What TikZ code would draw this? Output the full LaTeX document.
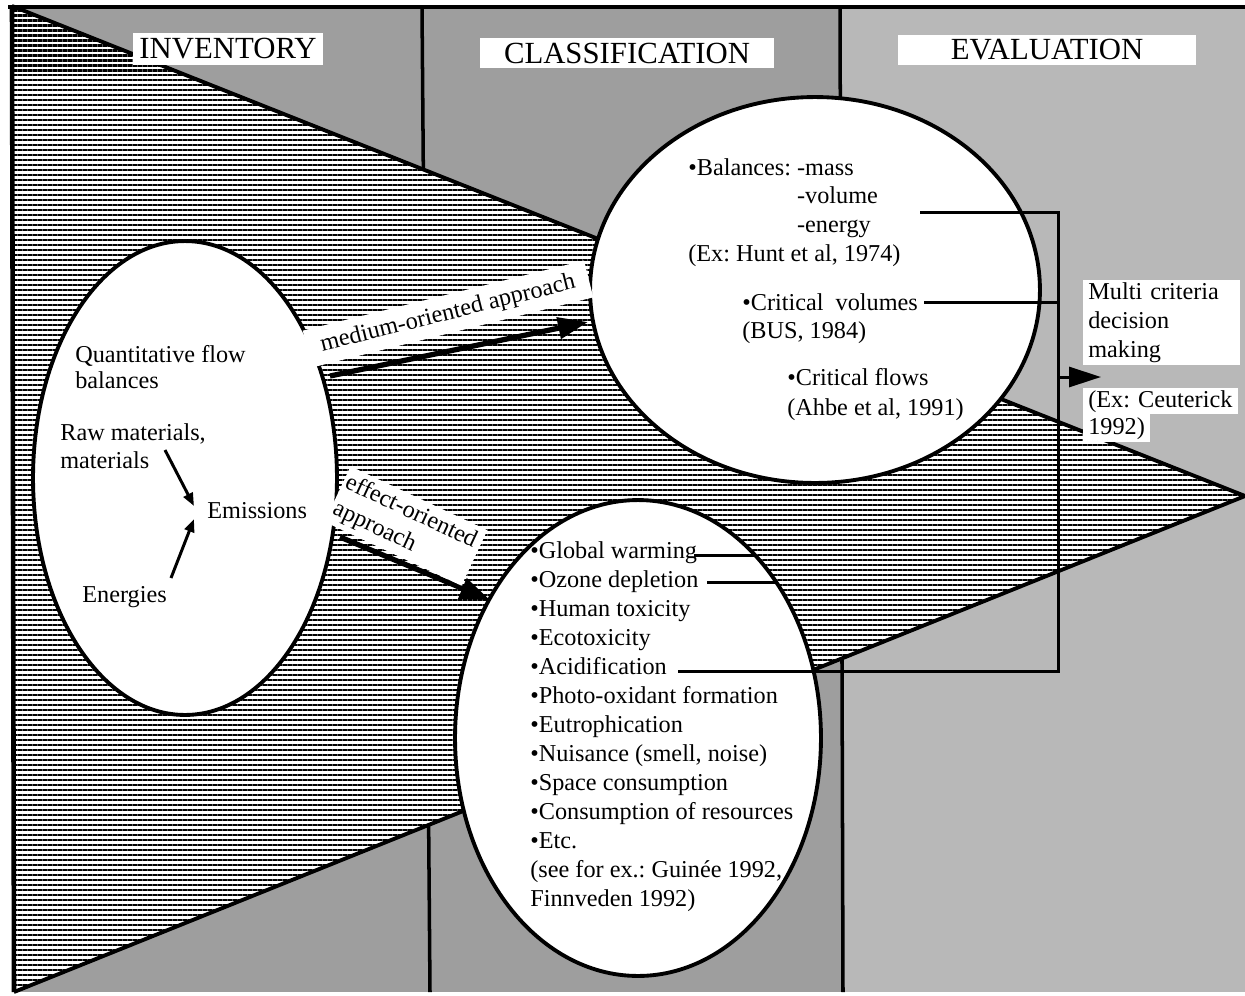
\documentclass[tikz,border=0pt]{standalone}
\usepackage{fontspec}
\setmainfont{Liberation Serif}
\usetikzlibrary{patterns.meta,arrows.meta,shapes.geometric}
\definecolor{screen}{gray}{0.62}
\definecolor{screenlight}{gray}{0.72}
\newcommand{\bodysize}[1]{\fontsize{13.8}{#1}\selectfont}
\frenchspacing
\begin{document}
\begin{tikzpicture}[x=0.02cm,y=-0.02cm,
  txt/.style={inner sep=0pt, align=left, anchor=north west, font=\bodysize{16.5pt}},
  head/.style={fill=white, inner sep=0pt, font=\fontsize{17.5}{20}\selectfont},
  bubble/.style={ellipse, draw, fill=white, line width=2.2pt, inner sep=0pt, outer sep=0pt},
  link/.style={line width=1.7pt},
  ptr/.style={line width=1.7pt, -{Triangle[length=0.26cm,width=0.2cm]}},
  flow/.style={line width=3pt, -{Triangle[length=0.6cm,width=0.42cm]}},
  tag/.style={fill=white, font=\bodysize{16.5pt}},
  rim/.style={line width=2.2pt, line join=miter}
]
% page and screened column backgrounds
\path[use as bounding box] (0,0) rectangle (1245,995);
\fill[white] (0,0) rectangle (1245,995);
\fill[screen] (12,7) rectangle (841,992);
\fill[screenlight] (841,7) rectangle (1245,992);
\draw[line width=2pt] (422,7) -- (430,992);
\draw[line width=2pt] (840,7) -- (843,992);

% large hatched wedge pointing right
\coordinate (tl) at (12,6);
\coordinate (bl) at (14,992);
\coordinate (tip) at (1245,496);
\fill[white] (tl) -- (tip) -- (bl) -- cycle;
\fill[pattern={Lines[angle=0,distance=0.1cm,line width=0.055cm]}] (tl) -- (tip) -- (bl) -- cycle;
\draw[rim] (tl) -- (tip) -- (bl);

% frame
\draw[line width=2.4pt] (8,7) -- (1245,7);
\draw[line width=2.6pt] (12,5) -- (14,992);

% the three ellipses
\node[bubble, minimum width=6.08cm, minimum height=9.48cm] (inv) at (185,478) {};
\node[bubble, minimum width=9.0cm, minimum height=7.72cm] (med) at (815,290) {};
\node[bubble, minimum width=7.32cm, minimum height=9.52cm] (eff) at (638,738) {};

% approach arrows with their labels
\coordinate (medFrom) at (330,376);
\coordinate (medTo) at (588,322);
\draw[flow] (medFrom) -- (medTo);
\node[tag, rotate=14, inner sep=0pt, minimum width=5.8cm, minimum height=0.76cm] (medLab) at (448,314) {medium-oriented approach};

\coordinate (effFrom) at (340,537);
\coordinate (effTo) at (490,600);
\draw[flow] (effFrom) -- (effTo);
\node[tag, rotate=-25, text width=2.9cm, align=left, inner xsep=0.06cm, inner ysep=0.1cm, font=\bodysize{16.5pt}] (effLab) at (406,526) {effect-oriented\\approach};

% inventory contents
\node[txt, font=\bodysize{14.7pt}] (quant) at (75,345) {Quantitative flow\\balances};
\node[txt, font=\bodysize{15.9pt}] (raw) at (60,423) {Raw materials,\\materials};
\node[txt] (emis) at (207,502) {Emissions};
\node[txt] (energ) at (82,586) {Energies};
\coordinate (rawTail) at (165,450);
\coordinate (rawTip) at (194,506);
\coordinate (enTail) at (171,578);
\coordinate (enTip) at (194,519);
\draw[ptr] (rawTail) -- (rawTip);
\draw[ptr] (enTail) -- (enTip);

% medium-oriented contents
\node[txt, font=\bodysize{16.4pt}] (bal) at (688,158) {•Balances: -mass\\\phantom{•Balances: }-volume\\\phantom{•Balances: }-energy\\(Ex: Hunt et al, 1974)};
\node[txt, font=\bodysize{15.9pt}] (cvol) at (742,293) {•Critical\ \ volumes\\(BUS, 1984)};
\node[txt, font=\bodysize{17pt}] (cflow) at (787,368) {•Critical flows\\(Ahbe et al, 1991)};

% effect-oriented contents
\node[txt, font=\bodysize{16.54pt}] (list) at (530,541) {•Global warming\\•Ozone depletion\\•Human toxicity\\•Ecotoxicity\\•Acidification\\•Photo-oxidant formation\\•Eutrophication\\•Nuisance (smell, noise)\\•Space consumption\\•Consumption of resources\\•Etc.\\(see for ex.: Guinée 1992,\\Finnveden 1992)};

% connectors towards the evaluation step
\coordinate (enStart) at (920,212);
\coordinate (jTop) at (1058,212);
\coordinate (cvStart) at (924,302);
\coordinate (cvJoin) at (1058,302);
\coordinate (acStart) at (678,671);
\coordinate (jBot) at (1058,671);
\coordinate (jArr) at (1058,377);
\coordinate (mcTip) at (1101,377);
\coordinate (gwStart) at (694,555);
\coordinate (gwEnd) at (755,555);
\coordinate (ozStart) at (707,582);
\coordinate (ozEnd) at (776,582);
\draw[link] (enStart) -- (jTop) -- (jBot) -- (acStart);
\draw[link] (cvStart) -- (cvJoin);
\draw[link] (gwStart) -- (gwEnd);
\draw[link] (ozStart) -- (ozEnd);
\draw[link, -{Triangle[length=0.64cm,width=0.4cm]}] (jArr) -- (mcTip);

% evaluation texts
\node[tag, anchor=north west, text width=2.94cm, inner xsep=0.1cm, inner ysep=0.04cm, align=left, font=\bodysize{16.7pt}] (mcdm) at (1083,280) {Multi criteria\\decision\\making};
\node[tag, anchor=north west, text width=2.9cm, inner xsep=0.1cm, inner ysep=0.04cm, align=left] (ceutA) at (1083,388) {\mbox{(Ex: Ceuterick}};
\node[tag, anchor=north west, inner xsep=0.1cm, inner ysep=0.06cm] (ceutB) at (1083,414) {1992)};

% column headings
\node[head, minimum width=3.8cm, minimum height=0.64cm] (hInv) at (228,49) {INVENTORY};
\node[head, minimum width=5.9cm, minimum height=0.6cm] (hCls) at (627,53) {CLASSIFICATION};
\node[head, minimum width=5.98cm, minimum height=0.6cm] (hEva) at (1047,50) {EVALUATION};
\end{tikzpicture}
\end{document}
